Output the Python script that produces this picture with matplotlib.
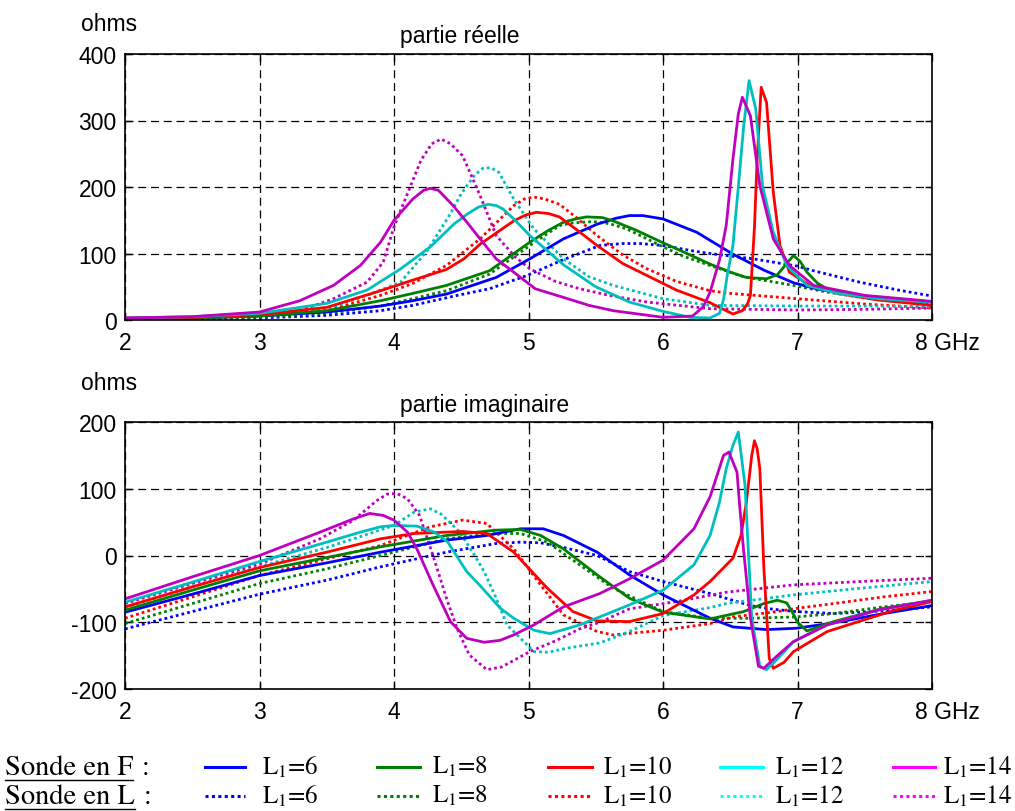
import matplotlib
matplotlib.use("Agg")
import matplotlib.pyplot as plt
from matplotlib.transforms import ScaledTranslation

plt.rcParams['font.family'] = ['Liberation Sans', 'DejaVu Sans']
plt.rcParams['mathtext.fontset'] = 'stix'
plt.rcParams['axes.unicode_minus'] = False

# ---------------- data : real part (ohms) ----------------
re_F6_f = [2.0, 2.5, 3.0, 3.5, 3.9, 4.14, 4.39, 4.76, 5.01, 5.26, 5.51, 5.65, 5.75, 5.85, 6.0, 6.25, 6.52, 6.75, 6.97, 7.14, 7.5, 8.0]
re_F6 = [2, 3, 6, 12, 21, 29, 39, 64, 92, 122, 144, 153, 157, 157, 152, 132, 99, 75, 56, 47, 35, 27]
re_L6_f = [2.0, 2.5, 3.0, 3.5, 3.9, 4.14, 4.47, 4.71, 4.99, 5.25, 5.53, 5.7, 5.83, 6.0, 6.22, 6.35, 6.67, 7.0, 7.12, 7.46, 7.75, 8.0]
re_L6 = [1, 2, 3, 7, 14, 22, 37, 47, 67, 90, 112, 115, 115, 112, 104, 100, 92, 81, 74, 57, 45, 36]
re_F8_f = [2.0, 2.5, 3.0, 3.5, 3.9, 4.14, 4.39, 4.71, 5.01, 5.15, 5.26, 5.35, 5.43, 5.55, 5.63, 5.8, 5.98, 6.2, 6.35, 6.5, 6.62, 6.77, 6.85, 6.92, 6.97, 7.02, 7.07, 7.15, 7.22, 7.5, 8.0]
re_F8 = [2, 3, 6, 14, 29, 40, 52, 74, 117, 135, 147, 152, 155, 154, 149, 135, 118, 98, 84, 72, 64, 62, 68, 85, 97, 88, 72, 55, 47, 36, 27]
re_L8_f = [2.0, 2.5, 3.0, 3.5, 3.9, 4.14, 4.39, 4.71, 5.01, 5.23, 5.33, 5.48, 5.6, 5.73, 5.98, 6.15, 6.35, 6.6, 6.97, 7.22, 7.5, 8.0]
re_L8 = [1, 2, 4, 10, 21, 32, 44, 69, 112, 142, 146, 148, 145, 137, 112, 96, 82, 65, 52, 42, 33, 24]
re_F10_f = [2.0, 2.5, 3.0, 3.5, 3.9, 4.14, 4.39, 4.52, 4.64, 4.89, 4.98, 5.06, 5.15, 5.23, 5.35, 5.51, 5.7, 5.88, 6.1, 6.35, 6.45, 6.52, 6.59, 6.63, 6.65, 6.68, 6.70, 6.73, 6.77, 6.82, 6.87, 6.94, 7.09, 7.3, 7.6, 8.0]
re_F10 = [3, 4, 8, 19, 44, 60, 76, 92, 114, 149, 158, 162, 160, 155, 137, 112, 85, 67, 45, 26, 16, 9, 14, 25, 37, 140, 242, 350, 327, 192, 112, 72, 52, 40, 30, 22]
re_L10_f = [2.0, 2.5, 3.0, 3.5, 3.9, 4.14, 4.39, 4.64, 4.89, 4.97, 5.04, 5.12, 5.23, 5.35, 5.51, 5.7, 5.88, 6.1, 6.35, 6.5, 7.0, 7.5, 8.0]
re_L10 = [2, 3, 6, 14, 37, 55, 82, 122, 172, 182, 185, 182, 174, 155, 127, 98, 77, 58, 44, 40, 32, 24, 18]
re_F12_f = [2.0, 2.5, 3.0, 3.5, 3.8, 4.05, 4.27, 4.45, 4.55, 4.63, 4.7, 4.76, 4.81, 4.9, 5.01, 5.26, 5.5, 5.75, 6.0, 6.2, 6.35, 6.42, 6.45, 6.48, 6.52, 6.56, 6.60, 6.64, 6.69, 6.74, 6.82, 6.92, 7.07, 7.3, 7.6, 8.0]
re_F12 = [3, 5, 10, 25, 45, 77, 110, 145, 160, 170, 174, 172, 167, 150, 127, 83, 50, 27, 13, 4, 3, 10, 31, 70, 112, 200, 292, 360, 317, 202, 132, 82, 52, 40, 32, 27]
re_L12_f = [2.0, 2.5, 3.0, 3.5, 3.8, 4.05, 4.25, 4.42, 4.5, 4.6, 4.66, 4.72, 4.78, 4.89, 5.04, 5.26, 5.45, 5.63, 6.0, 6.35, 7.0, 7.5, 8.0]
re_L12 = [2, 3, 7, 17, 37, 57, 105, 160, 190, 218, 228, 229, 222, 182, 137, 92, 65, 52, 32, 22, 21, 21, 20]
re_F14_f = [2.0, 2.5, 3.0, 3.3, 3.55, 3.75, 3.9, 4.0, 4.14, 4.22, 4.27, 4.33, 4.44, 4.55, 4.64, 4.76, 4.89, 5.05, 5.26, 5.45, 5.63, 6.0, 6.22, 6.3, 6.35, 6.42, 6.47, 6.52, 6.56, 6.59, 6.65, 6.72, 6.82, 6.94, 7.12, 7.5, 8.0]
re_F14 = [3, 5, 12, 29, 52, 82, 117, 150, 182, 195, 198, 195, 172, 145, 122, 92, 72, 47, 34, 22, 14, 4, 6, 20, 42, 90, 142, 242, 310, 335, 307, 202, 122, 82, 52, 37, 28]
re_L14_f = [2.0, 2.5, 3.0, 3.3, 3.55, 3.8, 3.92, 4.0, 4.1, 4.2, 4.28, 4.35, 4.42, 4.51, 4.58, 4.64, 4.76, 4.9, 5.01, 5.2, 5.38, 5.6, 5.88, 6.35, 7.0, 7.5, 8.0]
re_L14 = [3, 4, 8, 14, 32, 57, 87, 140, 190, 240, 265, 272, 265, 247, 215, 187, 127, 95, 77, 58, 47, 37, 27, 17, 15, 16, 18]

# ---------------- data : imaginary part (ohms) ----------------
im_F6_f = [2.0, 2.5, 3.0, 3.5, 3.9, 4.39, 4.69, 4.94, 5.11, 5.26, 5.51, 5.75, 6.0, 6.35, 6.52, 6.77, 6.99, 7.27, 7.64, 8.0]
im_F6 = [-85, -58, -30, -11, 5, 23, 30, 40, 40, 30, 5, -29, -59, -94, -107, -111, -109, -101, -87, -75]
im_L6_f = [2.0, 2.5, 3.0, 3.5, 3.9, 4.39, 4.76, 4.94, 5.09, 5.26, 5.51, 5.75, 6.0, 6.35, 6.5, 6.65, 6.8, 6.99, 7.27, 7.64, 8.0]
im_L6 = [-110, -84, -58, -37, -17, 5, 18, 20, 19, 12, 0, -24, -39, -57, -66, -75, -80, -84, -87, -83, -77]
im_F8_f = [2.0, 2.5, 3.0, 3.5, 3.9, 4.39, 4.76, 4.94, 5.09, 5.26, 5.51, 5.75, 6.0, 6.35, 6.6, 6.75, 6.85, 6.92, 6.97, 7.0, 7.07, 7.27, 7.64, 8.0]
im_F8 = [-82, -52, -23, -3, 13, 30, 38, 39, 30, 10, -29, -64, -85, -95, -84, -72, -67, -71, -88, -100, -113, -99, -79, -68]
im_L8_f = [2.0, 2.5, 3.0, 3.5, 3.9, 4.39, 4.76, 4.94, 5.14, 5.38, 5.63, 6.0, 6.35, 6.65, 6.99, 7.27, 7.64, 8.0]
im_L8 = [-102, -72, -42, -20, 0, 25, 33, 33, 20, -14, -49, -84, -94, -94, -92, -87, -77, -69]
im_F10_f = [2.0, 2.5, 3.0, 3.5, 3.9, 4.15, 4.51, 4.69, 4.89, 5.14, 5.33, 5.51, 5.75, 6.0, 6.23, 6.35, 6.52, 6.58, 6.62, 6.66, 6.68, 6.70, 6.72, 6.75, 6.79, 6.82, 6.9, 6.97, 7.22, 7.72, 8.0]
im_F10 = [-77, -47, -18, 5, 25, 33, 36, 33, 5, -49, -84, -98, -99, -87, -59, -39, -4, 30, 80, 150, 172, 160, 130, -19, -154, -169, -160, -144, -114, -82, -69]
im_L10_f = [2.0, 2.5, 3.0, 3.5, 3.9, 4.27, 4.51, 4.69, 4.89, 5.09, 5.26, 5.51, 5.63, 6.0, 6.35, 6.52, 6.85, 7.0, 7.27, 7.64, 8.0]
im_L10 = [-94, -62, -30, -5, 15, 43, 53, 48, 10, -44, -89, -114, -119, -112, -102, -92, -84, -79, -72, -62, -54]
im_F12_f = [2.0, 2.5, 3.0, 3.5, 3.75, 3.9, 4.0, 4.17, 4.3, 4.4, 4.54, 4.64, 4.79, 4.89, 5.04, 5.16, 5.38, 5.53, 5.75, 6.0, 6.23, 6.35, 6.42, 6.47, 6.52, 6.56, 6.61, 6.66, 6.72, 6.77, 6.85, 6.97, 7.22, 7.59, 8.0]
im_F12 = [-70, -40, -9, 20, 35, 43, 45, 44, 35, 20, -24, -45, -79, -94, -112, -117, -104, -92, -74, -52, -14, 30, 80, 130, 165, 185, 105, -94, -166, -171, -155, -129, -104, -82, -67]
im_L12_f = [2.0, 2.5, 3.0, 3.5, 3.7, 4.0, 4.15, 4.27, 4.35, 4.49, 4.6, 4.67, 4.76, 4.84, 4.94, 5.04, 5.15, 5.28, 5.53, 5.75, 6.0, 6.35, 6.47, 6.97, 7.47, 8.0]
im_L12 = [-78, -47, -17, 12, 25, 45, 65, 70, 62, 35, 0, -24, -64, -104, -124, -144, -145, -139, -131, -114, -90, -78, -72, -59, -49, -39]
im_F14_f = [2.0, 2.5, 3.0, 3.45, 3.7, 3.82, 3.92, 4.0, 4.1, 4.17, 4.29, 4.42, 4.54, 4.67, 4.79, 4.89, 5.04, 5.26, 5.53, 5.75, 6.0, 6.23, 6.35, 6.45, 6.49, 6.55, 6.57, 6.6, 6.65, 6.71, 6.75, 6.85, 6.97, 7.22, 7.59, 8.0]
im_F14 = [-65, -32, 0, 35, 55, 63, 60, 53, 35, 10, -44, -99, -124, -130, -127, -119, -104, -77, -57, -35, -7, 40, 88, 150, 155, 125, 75, 6, -94, -166, -169, -150, -129, -104, -82, -67]
im_L14_f = [2.0, 2.5, 3.0, 3.45, 3.7, 3.87, 3.95, 4.02, 4.1, 4.19, 4.29, 4.39, 4.47, 4.56, 4.69, 4.8, 5.01, 5.2, 5.38, 5.53, 5.75, 6.13, 6.47, 6.97, 7.47, 8.0]
im_L14 = [-72, -42, -13, 25, 53, 82, 92, 93, 85, 60, 0, -64, -110, -149, -171, -167, -144, -128, -110, -100, -80, -68, -55, -44, -39, -34]

labels = ['L$_1$=6', 'L$_1$=8', 'L$_1$=10', 'L$_1$=12', 'L$_1$=14']
plot_colors = [(0, 0, 1), (0, 0.5, 0), (1, 0, 0), (0, 0.75, 0.75), (0.75, 0, 0.75)]
legend_colors = [(0, 0, 1), (0, 0.5, 0), (1, 0, 0), (0, 1, 1), (1, 0, 1)]
xticks = [2, 3, 4, 5, 6, 7, 8]
xticklabels = ['2', '3', '4', '5', '6', '7', '8 GHz']

re_F = [(re_F6_f, re_F6), (re_F8_f, re_F8), (re_F10_f, re_F10), (re_F12_f, re_F12), (re_F14_f, re_F14)]
re_L = [(re_L6_f, re_L6), (re_L8_f, re_L8), (re_L10_f, re_L10), (re_L12_f, re_L12), (re_L14_f, re_L14)]
im_F = [(im_F6_f, im_F6), (im_F8_f, im_F8), (im_F10_f, im_F10), (im_F12_f, im_F12), (im_F14_f, im_F14)]
im_L = [(im_L6_f, im_L6), (im_L8_f, im_L8), (im_L10_f, im_L10), (im_L12_f, im_L12), (im_L14_f, im_L14)]

W, H = 1015, 812
fig = plt.figure(figsize=(W / 100, H / 100), dpi=100)


def fx(px):
    return px / W


def fy(py):
    return 1 - py / H


def axes_px(l, t, r, b):
    return fig.add_axes([fx(l), fy(b), fx(r) - fx(l), fy(t) - fy(b)])


FS = 16.5
LW = 2.0
DOT = (0, (1, 1.1))


def style(ax, ylim, yticks):
    ax.set_xlim(2, 8)
    ax.set_ylim(*ylim)
    ax.set_xticks(xticks)
    ax.set_xticklabels(xticklabels)
    ax.set_yticks(yticks)
    ax.tick_params(direction='in', top=True, right=True, length=5, width=1,
                   labelsize=FS, pad=6)
    ax.tick_params(axis='x', pad=8)
    ax.grid(True, color='black', linewidth=0.9, linestyle=(0, (6.4, 3.8)))
    for s in ax.spines.values():
        s.set_linewidth(1.2)
    for lab in ax.get_xticklabels():
        if lab.get_text().startswith('8'):
            lab.set_horizontalalignment('left')
            lab.set_transform(lab.get_transform() +
                              ScaledTranslation(-17 / 100, 0, fig.dpi_scale_trans))


ax1 = axes_px(125, 55, 932, 321)
for (f, v), c in zip(re_L, plot_colors):
    ax1.plot(f, v, color=c, lw=LW, linestyle=DOT)
for (f, v), c in zip(re_F, plot_colors):
    ax1.plot(f, v, color=c, lw=LW)
style(ax1, (0, 400), [0, 100, 200, 300, 400])

ax2 = axes_px(125, 423, 932, 690)
for (f, v), c in zip(im_L, plot_colors):
    ax2.plot(f, v, color=c, lw=LW, linestyle=DOT)
for (f, v), c in zip(im_F, plot_colors):
    ax2.plot(f, v, color=c, lw=LW)
style(ax2, (-200, 200), [-200, -100, 0, 100, 200])

fig.text(fx(81), fy(31), 'ohms', fontsize=FS, va='baseline', ha='left')
fig.text(fx(81), fy(390), 'ohms', fontsize=FS, va='baseline', ha='left')
fig.text(fx(400), fy(43), 'partie réelle', fontsize=FS, va='baseline', ha='left')
fig.text(fx(400), fy(412), 'partie imaginaire', fontsize=FS, va='baseline', ha='left')

# ---------------- legend ----------------
axl = fig.add_axes([0, 0, 1, 1], facecolor='none')
axl.set_xlim(0, W)
axl.set_ylim(H, 0)
axl.axis('off')
LFS = 18
TFS = 20.5
rows = [(768, '-'), (797, DOT)]
row_titles = ['Sonde en F', 'Sonde en L']
line_x = [(205, 245), (377, 420), (548, 592), (720, 763), (893, 935)]
text_x = [262, 432, 603, 775, 943]
renderer = fig.canvas.get_renderer()
for (yy, ls), title in zip(rows, row_titles):
    t = axl.text(5, yy, title, fontsize=TFS, family='STIXGeneral', va='center', ha='left')
    bb = t.get_window_extent(renderer=renderer)
    x_end = bb.x1 * W / fig.bbox.width
    axl.plot([5, x_end], [yy + 13, yy + 13], color='black', lw=1.0)
    axl.text(x_end + 9, yy, ':', fontsize=TFS, family='STIXGeneral', va='center', ha='left')
    for (x0, x1), tx, c, lab in zip(line_x, text_x, legend_colors, labels):
        axl.plot([x0, x1], [yy, yy], color=c, lw=2.2, linestyle=ls)
        axl.text(tx, yy, lab, fontsize=LFS, family='STIXGeneral', va='center', ha='left')

fig.savefig('out.png', dpi=100)
